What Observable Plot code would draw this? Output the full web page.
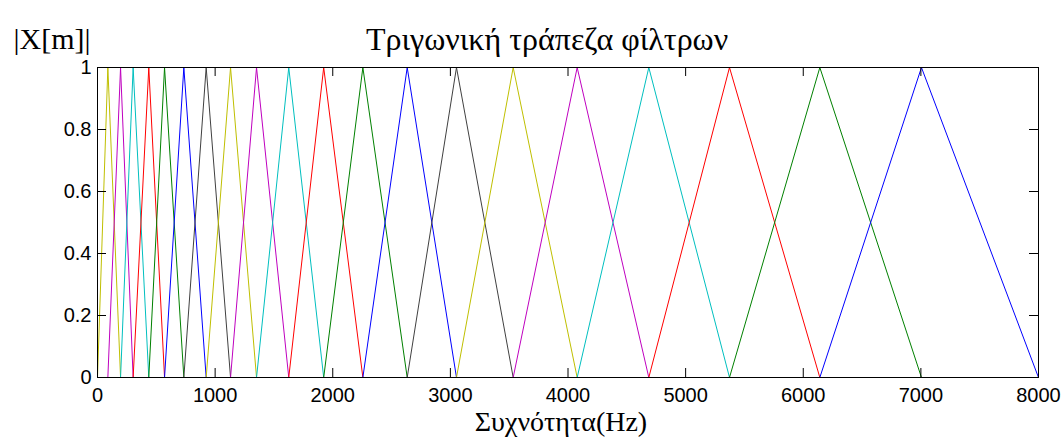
<!DOCTYPE html>
<html><head><meta charset="utf-8">
<script src="https://cdn.jsdelivr.net/npm/d3@7"></script>
<script src="https://cdn.jsdelivr.net/npm/@observablehq/plot@0.6"></script>
<style>body{margin:0;background:#fff}</style>
</head><body><div id="chart"></div>
<script>
// Filter edge / centre frequencies (Hz)
const edges = [0, 88, 196, 303, 436, 570, 734, 924, 1131, 1352, 1626, 1923, 2256, 2633, 3052, 3534, 4078, 4687, 5373, 6141, 7005, 8000];
const colorOrder = ["#bfbf00", "#bf00bf", "#00bfbf", "#ff0000", "#008000", "#0000ff", "#404040"];
const xTicks = [0, 1000, 2000, 3000, 4000, 5000, 6000, 7000, 8000];
const yTicks = [0, 0.2, 0.4, 0.6, 0.8, 1];
const title = "Τριγωνική τράπεζα φίλτρων";
const yLabel = "|X[m]|";
const xLabel = "Συχνότητα(Hz)";

const rows = [];
for (let i = 0; i < edges.length - 2; i++) {
  rows.push({f: edges[i], v: 0, k: i}, {f: edges[i + 1], v: 1, k: i}, {f: edges[i + 2], v: 0, k: i});
}

const W = 1063, H = 445, mL = 97, mR = 25, mT = 67, mB = 68;
const fw = W - mL - mR, fh = H - mT - mB, tick = 9;
const sans = "Liberation Sans, Arial, sans-serif";
const serif = "Liberation Serif, Times New Roman, serif";

const chart = Plot.plot({
  width: W, height: H,
  marginLeft: mL, marginRight: mR, marginTop: mT, marginBottom: mB,
  style: {fontFamily: sans, fontSize: "20px", background: "#fff", color: "#000"},
  x: {domain: [0, 8000], ticks: xTicks},
  y: {domain: [0, 1], ticks: yTicks},
  marks: [
    Plot.line(rows, {x: "f", y: "v", z: "k", stroke: d => colorOrder[d.k % colorOrder.length], strokeWidth: 1}),
    Plot.frame({stroke: "#000", strokeWidth: 1}),
    Plot.ruleX(xTicks, {x: d => d, insetTop: fh - tick, stroke: "#000"}),
    Plot.ruleX(xTicks, {x: d => d, insetBottom: fh - tick, stroke: "#000"}),
    Plot.ruleY(yTicks, {y: d => d, insetRight: fw - tick, stroke: "#000"}),
    Plot.ruleY(yTicks, {y: d => d, insetLeft: fw - tick, stroke: "#000"}),
    Plot.axisX({ticks: xTicks, tickSize: 0, tickPadding: 10, tickFormat: d => String(d), label: null, fontSize: 20}),
    Plot.axisY({ticks: yTicks, tickSize: 0, tickPadding: 6, tickFormat: d => String(d), label: null, fontSize: 20}),
    Plot.text([title], {text: d => d, frameAnchor: "top", dx: -21, dy: -40, fontFamily: serif, fontSize: 32, fill: "#000"}),
    Plot.text([yLabel], {text: d => d, frameAnchor: "top-left", textAnchor: "start", dx: -84, dy: -40, fontFamily: serif, fontSize: 30, fill: "#000"}),
    Plot.text([xLabel], {text: d => d, frameAnchor: "bottom", dx: -7, dy: 53, fontFamily: serif, fontSize: 28, fill: "#000"})
  ]
});
document.getElementById("chart").appendChild(chart);
</script>
</body></html>
